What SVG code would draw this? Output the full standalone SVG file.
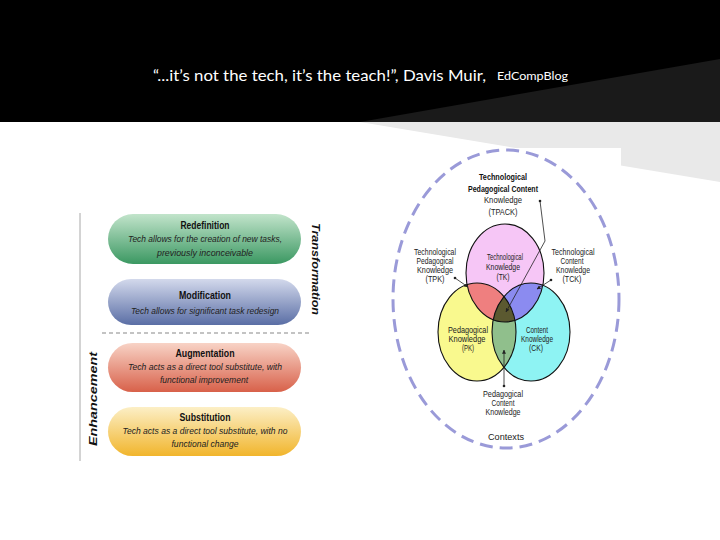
<svg xmlns="http://www.w3.org/2000/svg" width="720" height="540" viewBox="0 0 720 540">
<style>
.hdr{font-family:"Lato","Liberation Sans",sans-serif;fill:#fff}
.pt{font-family:"Liberation Sans",Arial,sans-serif;font-weight:bold;font-size:10px;fill:#111;text-anchor:middle}
.ps{font-family:"Liberation Sans",Arial,sans-serif;font-style:italic;font-size:9.5px;fill:#222;text-anchor:middle}
.side{font-family:"Liberation Sans",Arial,sans-serif;font-style:italic;font-weight:bold;font-size:11.5px;fill:#111;text-anchor:middle}
.v{font-family:"Liberation Sans",Arial,sans-serif;font-size:8.6px;fill:#222;text-anchor:middle}
.vb{font-family:"Liberation Sans",Arial,sans-serif;font-size:8.6px;font-weight:bold;fill:#111;text-anchor:middle}
.outl{fill:none;stroke:#111;stroke-width:1.1}
.conn{fill:none;stroke:#222;stroke-width:0.8}
</style>
<defs>
<linearGradient id="gG" x1="0" y1="0" x2="0" y2="1"><stop offset="0" stop-color="#c2e4cb"/><stop offset="1" stop-color="#3b9862"/></linearGradient>
<linearGradient id="gB" x1="0" y1="0" x2="0" y2="1"><stop offset="0" stop-color="#d3d9ec"/><stop offset="1" stop-color="#5a6ea5"/></linearGradient>
<linearGradient id="gR" x1="0" y1="0" x2="0" y2="1"><stop offset="0" stop-color="#f8d3c6"/><stop offset="1" stop-color="#d8614a"/></linearGradient>
<linearGradient id="gY" x1="0" y1="0" x2="0" y2="1"><stop offset="0" stop-color="#fcefc6"/><stop offset="1" stop-color="#f1b52c"/></linearGradient>
<clipPath id="cTK"><ellipse cx="505" cy="273" rx="39" ry="49"/></clipPath>
<clipPath id="cPK"><ellipse cx="477" cy="332" rx="39" ry="49"/></clipPath>
<marker id="ah" viewBox="0 0 6 6" refX="5.5" refY="3" markerWidth="5" markerHeight="5" orient="auto"><path d="M0,0 L6,3 L0,6 z" fill="#222"/></marker>
</defs>

<g id="background">
<rect x="0" y="0" width="720" height="540" fill="#fff"/>
<rect x="0" y="0" width="720" height="122" fill="#000"/>
<polygon points="360,122 720,59 720,122" fill="#1a1a1a"/>
<polygon points="360,122 720,122 720,182" fill="#e9e9e9"/>
<rect x="385" y="148" width="236" height="320" fill="#fff"/>
</g>

<g id="title">
<text class="hdr" x="153" y="81" font-size="16" textLength="333" lengthAdjust="spacingAndGlyphs">“...it’s not the tech, it’s the teach!”, Davis Muir,</text>
<text class="hdr" x="497" y="80" font-size="10.5" textLength="71" lengthAdjust="spacingAndGlyphs">EdCompBlog</text>
</g>

<g id="samr-frame">
<line x1="80" y1="213" x2="80" y2="461" stroke="#a8a8a8" stroke-width="1"/>
<line x1="102" y1="333" x2="310" y2="333" stroke="#b0b0b0" stroke-width="1.5" stroke-dasharray="4 3"/>
<text class="side" transform="translate(312,269) rotate(90)" textLength="92" lengthAdjust="spacingAndGlyphs">Transformation</text>
<text class="side" transform="translate(97,399) rotate(-90)" textLength="94" lengthAdjust="spacingAndGlyphs">Enhancement</text>
</g>

<g id="redefinition">
<rect x="108" y="214" width="193" height="50" rx="25" fill="url(#gG)"/>
<text class="pt" x="205" y="229" textLength="49" lengthAdjust="spacingAndGlyphs">Redefinition</text>
<text class="ps" x="205" y="242" textLength="154" lengthAdjust="spacingAndGlyphs">Tech allows for the creation of new tasks,</text>
<text class="ps" x="205" y="256" textLength="96" lengthAdjust="spacingAndGlyphs">previously inconceivable</text>
</g>
<g id="modification">
<rect x="108" y="279" width="193" height="46" rx="23" fill="url(#gB)"/>
<text class="pt" x="205" y="299" textLength="52" lengthAdjust="spacingAndGlyphs">Modification</text>
<text class="ps" x="205" y="314" textLength="148" lengthAdjust="spacingAndGlyphs">Tech allows for significant task redesign</text>
</g>
<g id="augmentation">
<rect x="108" y="343" width="193" height="49" rx="24.5" fill="url(#gR)"/>
<text class="pt" x="205" y="357" textLength="59" lengthAdjust="spacingAndGlyphs">Augmentation</text>
<text class="ps" x="205" y="370" textLength="154" lengthAdjust="spacingAndGlyphs">Tech acts as a direct tool substitute, with</text>
<text class="ps" x="204" y="383" textLength="88" lengthAdjust="spacingAndGlyphs">functional improvement</text>
</g>
<g id="substitution">
<rect x="108" y="407" width="193" height="49" rx="24.5" fill="url(#gY)"/>
<text class="pt" x="205" y="421" textLength="51" lengthAdjust="spacingAndGlyphs">Substitution</text>
<text class="ps" x="205" y="434" textLength="165" lengthAdjust="spacingAndGlyphs">Tech acts as a direct tool substitute, with no</text>
<text class="ps" x="205" y="447" textLength="67" lengthAdjust="spacingAndGlyphs">functional change</text>
</g>

<g id="contexts">
<ellipse cx="506" cy="299" rx="113" ry="149" fill="none" stroke="#9a9ad8" stroke-width="3" stroke-dasharray="13 7"/>
<text class="v" x="506" y="440" font-size="10" textLength="36" lengthAdjust="spacingAndGlyphs">Contexts</text>
</g>

<g id="venn">
<ellipse cx="505" cy="273" rx="39" ry="49" fill="#f6c6f6"/>
<ellipse cx="477" cy="332" rx="39" ry="49" fill="#f9f98e"/>
<ellipse cx="531" cy="332" rx="39" ry="49" fill="#8ef3f3"/>
<g clip-path="url(#cTK)">
<ellipse cx="477" cy="332" rx="39" ry="49" fill="#ef7f7f"/>
<ellipse cx="531" cy="332" rx="39" ry="49" fill="#8b8bf0"/>
</g>
<g clip-path="url(#cPK)">
<ellipse cx="531" cy="332" rx="39" ry="49" fill="#90bf8c"/>
<g clip-path="url(#cTK)"><ellipse cx="531" cy="332" rx="39" ry="49" fill="#5b5930"/></g>
</g>
<ellipse class="outl" cx="505" cy="273" rx="39" ry="49"/>
<ellipse class="outl" cx="477" cy="332" rx="39" ry="49"/>
<ellipse class="outl" cx="531" cy="332" rx="39" ry="49"/>
</g>

<g id="tk">
<text class="v" x="505" y="260" textLength="36" lengthAdjust="spacingAndGlyphs">Technological</text>
<text class="v" x="503" y="270" textLength="34" lengthAdjust="spacingAndGlyphs">Knowledge</text>
<text class="v" x="503" y="280" textLength="13" lengthAdjust="spacingAndGlyphs">(TK)</text>
</g>
<g id="pk">
<text class="v" x="468" y="333" textLength="40" lengthAdjust="spacingAndGlyphs">Pedagogical</text>
<text class="v" x="467" y="342" textLength="37" lengthAdjust="spacingAndGlyphs">Knowledge</text>
<text class="v" x="468" y="351" textLength="12" lengthAdjust="spacingAndGlyphs">(PK)</text>
</g>
<g id="ck">
<text class="v" x="537" y="333" textLength="22" lengthAdjust="spacingAndGlyphs">Content</text>
<text class="v" x="537" y="342" textLength="32" lengthAdjust="spacingAndGlyphs">Knowledge</text>
<text class="v" x="536" y="351" textLength="14" lengthAdjust="spacingAndGlyphs">(CK)</text>
</g>
<g id="tpack">
<text class="vb" x="503" y="180" textLength="48" lengthAdjust="spacingAndGlyphs">Technological</text>
<text class="vb" x="503" y="192" textLength="70" lengthAdjust="spacingAndGlyphs">Pedagogical Content</text>
<text class="v" x="503" y="203" textLength="38" lengthAdjust="spacingAndGlyphs">Knowledge</text>
<text class="v" x="503" y="215" textLength="29" lengthAdjust="spacingAndGlyphs">(TPACK)</text>
</g>
<g id="tpk">
<text class="v" x="435" y="255" textLength="42" lengthAdjust="spacingAndGlyphs">Technological</text>
<text class="v" x="435" y="264" textLength="37" lengthAdjust="spacingAndGlyphs">Pedagogical</text>
<text class="v" x="435" y="273" textLength="36" lengthAdjust="spacingAndGlyphs">Knowledge</text>
<text class="v" x="435" y="282" textLength="19" lengthAdjust="spacingAndGlyphs">(TPK)</text>
</g>
<g id="tck">
<text class="v" x="573" y="255" textLength="43" lengthAdjust="spacingAndGlyphs">Technological</text>
<text class="v" x="572" y="264" textLength="23" lengthAdjust="spacingAndGlyphs">Content</text>
<text class="v" x="573" y="273" textLength="34" lengthAdjust="spacingAndGlyphs">Knowledge</text>
<text class="v" x="572" y="282" textLength="19" lengthAdjust="spacingAndGlyphs">(TCK)</text>
</g>
<g id="pck">
<text class="v" x="503" y="397" textLength="40" lengthAdjust="spacingAndGlyphs">Pedagogical</text>
<text class="v" x="503" y="406" textLength="23" lengthAdjust="spacingAndGlyphs">Content</text>
<text class="v" x="503" y="415" textLength="35" lengthAdjust="spacingAndGlyphs">Knowledge</text>
</g>

<g id="connectors">
<circle cx="540" cy="201" r="1.3" fill="#222"/>
<polyline class="conn" points="540,201 545,241 506,312" marker-end="url(#ah)"/>
<circle cx="455" cy="278" r="1.3" fill="#222"/>
<line class="conn" x1="455" y1="278" x2="468" y2="287" marker-end="url(#ah)"/>
<circle cx="551" cy="280" r="1.3" fill="#222"/>
<line class="conn" x1="551" y1="280" x2="537" y2="289" marker-end="url(#ah)"/>
<circle cx="504" cy="386" r="1.3" fill="#222"/>
<line class="conn" x1="504" y1="386" x2="504" y2="350" marker-end="url(#ah)"/>
</g>
</svg>
